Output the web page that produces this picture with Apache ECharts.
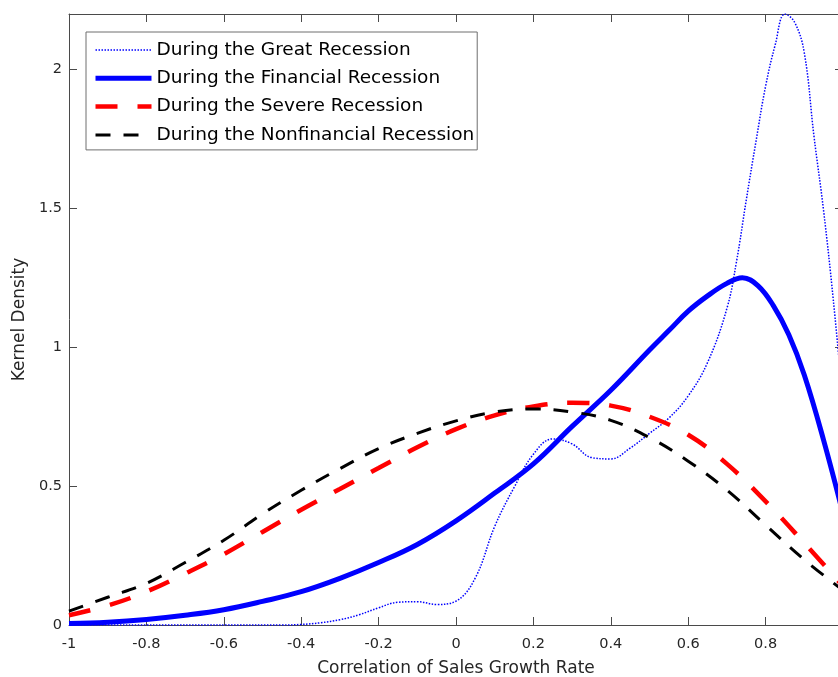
<!DOCTYPE html>
<html>
<head>
<meta charset="utf-8">
<script src="https://cdn.jsdelivr.net/npm/echarts@6/dist/echarts.min.js"></script>
<style>
html,body{margin:0;padding:0;background:#fff;overflow:hidden;width:838px;height:677px;}
#chart{width:850px;height:677px;}
</style>
</head>
<body>
<div id="chart"></div>
<script>
// ---- data ----
const seriesNames = [
  'During the Great Recession',
  'During the Financial Recession',
  'During the Severe Recession',
  'During the Nonfinancial Recession'
];
const xTitle = 'Correlation of Sales Growth Rate';
const yTitle = 'Kernel Density';

const greatX = [-1, -0.6, -0.45, -0.4, -0.35, -0.3, -0.25, -0.2, -0.15, -0.1, -0.05, 0, 0.05, 0.1, 0.15, 0.2, 0.25, 0.3, 0.35, 0.4, 0.45, 0.5, 0.55, 0.6, 0.65, 0.7, 0.725, 0.75, 0.775, 0.8, 0.825, 0.85, 0.875, 0.9, 0.925, 0.95, 0.975, 1];
const greatY = [0, 0, 0, 0.002, 0.008, 0.019, 0.037, 0.062, 0.082, 0.084, 0.074, 0.086, 0.17, 0.355, 0.495, 0.615, 0.67, 0.652, 0.603, 0.598, 0.637, 0.69, 0.745, 0.825, 0.945, 1.14, 1.31, 1.53, 1.74, 1.94, 2.09, 2.2, 2.17, 2.06, 1.76, 1.49, 1.17, 0.8];

const finX = [-1, -0.9, -0.8, -0.7, -0.6, -0.5, -0.4, -0.3, -0.2, -0.1, 0, 0.1, 0.2, 0.3, 0.4, 0.5, 0.55, 0.6, 0.65, 0.7, 0.74, 0.78, 0.82, 0.86, 0.9, 0.95, 1];
const finY = [0.005, 0.01, 0.02, 0.035, 0.055, 0.085, 0.12, 0.168, 0.225, 0.29, 0.375, 0.475, 0.58, 0.715, 0.845, 0.99, 1.06, 1.13, 1.185, 1.23, 1.25, 1.222, 1.15, 1.045, 0.9, 0.665, 0.4];

const sevX = [-1, -0.9, -0.8, -0.7, -0.6, -0.5, -0.4, -0.3, -0.2, -0.1, 0, 0.1, 0.2, 0.3, 0.4, 0.5, 0.6, 0.7, 0.8, 0.9, 1];
const sevY = [0.035, 0.07, 0.12, 0.185, 0.255, 0.335, 0.415, 0.49, 0.565, 0.64, 0.705, 0.755, 0.787, 0.8, 0.79, 0.75, 0.685, 0.58, 0.445, 0.295, 0.14];

const nonX = [-1, -0.9, -0.8, -0.7, -0.6, -0.5, -0.4, -0.3, -0.2, -0.1, 0, 0.1, 0.2, 0.3, 0.4, 0.5, 0.6, 0.7, 0.8, 0.9, 1];
const nonY = [0.05, 0.1, 0.15, 0.225, 0.305, 0.4, 0.485, 0.563, 0.635, 0.69, 0.735, 0.767, 0.778, 0.767, 0.737, 0.675, 0.59, 0.486, 0.36, 0.235, 0.125];

const xMin = -1, xMax = 1, xStep = 0.2;
const yMin = 0, yMax = 2.2, yStep = 0.5;

// ---- chart ----
const pair = (xs, ys) => xs.map((x, i) => [x, ys[i]]);
const FONT = 'DejaVu Sans';
const AXC = '#4a4a4a';
const TXC = '#262626';

const chart = echarts.init(document.getElementById('chart'), null, {renderer: 'canvas', width: 850, height: 677});

const baseX = {
  type: 'value', min: xMin, max: xMax, interval: xStep,
  axisLine: {show: true, onZero: false, lineStyle: {color: AXC, width: 1}},
  axisTick: {show: true, inside: true, length: 8, lineStyle: {color: AXC}},
  splitLine: {show: false}
};
const baseY = {
  type: 'value', min: yMin, max: yMax, interval: yStep,
  axisLine: {show: true, onZero: false, lineStyle: {color: AXC, width: 1}},
  axisTick: {show: true, inside: true, length: 8, lineStyle: {color: AXC}},
  splitLine: {show: false}
};

const styles = [
  {color: '#0000ff', width: 1.5, type: 'dotted'},
  {color: '#0000ff', width: 5, type: 'solid'},
  {color: '#ff0000', width: 4.5, type: [22, 20]},
  {color: '#000000', width: 3, type: [15, 13]}
];
const datasets = [pair(greatX, greatY), pair(finX, finY), pair(sevX, sevY), pair(nonX, nonY)];

const option = {
  animation: false,
  backgroundColor: '#ffffff',
  grid: {left: 69, top: 14, right: 7, bottom: 52, containLabel: false, outerBoundsMode: 'none'},
  xAxis: [
    Object.assign({}, baseX, {
      position: 'bottom',
      name: xTitle, nameLocation: 'middle', nameGap: 35,
      nameTextStyle: {fontFamily: FONT, fontSize: 17, color: TXC},
      axisLabel: {show: true, margin: 12, showMaxLabel: false,
        fontFamily: FONT, fontSize: 14.5, color: TXC}
    }),
    Object.assign({}, baseX, {position: 'top', axisLabel: {show: false}})
  ],
  yAxis: [
    Object.assign({}, baseY, {
      position: 'left',
      name: yTitle, nameLocation: 'middle', nameGap: 36,
      nameTextStyle: {fontFamily: FONT, fontSize: 17, color: TXC},
      axisLabel: {show: true, margin: 7, showMaxLabel: false,
        fontFamily: FONT, fontSize: 14.5, color: TXC}
    }),
    Object.assign({}, baseY, {position: 'right', axisLabel: {show: false}})
  ],
  legend: {
    show: true,
    orient: 'vertical',
    left: 86, top: 32,
    padding: [8, 3, 5, 7],
    itemWidth: 56, itemHeight: 20, itemGap: 8.3,
    backgroundColor: '#ffffff',
    borderColor: '#6e6e6e', borderWidth: 1, borderRadius: 0,
    itemStyle: {opacity: 0},
    textStyle: {fontFamily: FONT, fontSize: 18.5, color: '#000', lineHeight: 20},
    data: seriesNames.map((n, i) => ({
      name: n,
      lineStyle: {color: styles[i].color, width: styles[i].width, type: styles[i].type}
    }))
  },
  series: seriesNames.map((n, i) => ({
    name: n, type: 'line', data: datasets[i],
    smooth: 0.4, symbol: 'none', clip: true,
    lineStyle: styles[i],
    itemStyle: {color: styles[i].color}
  }))
};
chart.setOption(option);
</script>
</body>
</html>
